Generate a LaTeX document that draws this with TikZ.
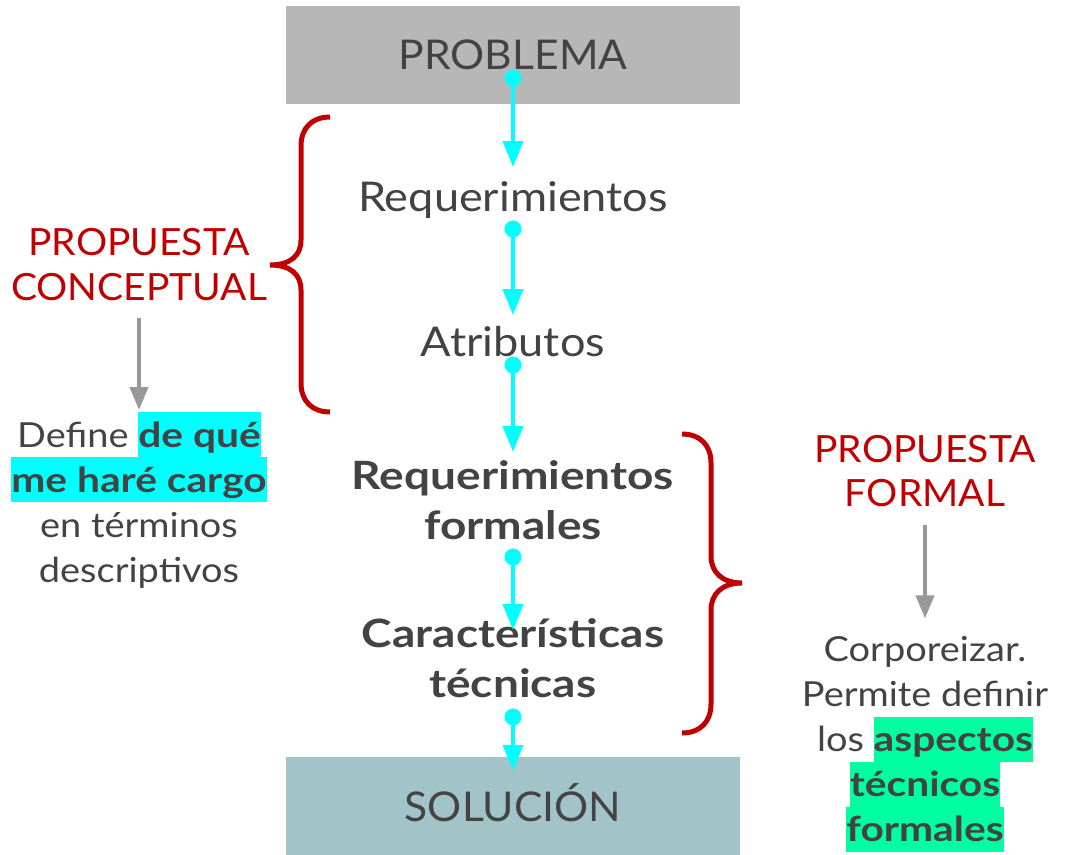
\documentclass[tikz,border=0pt]{standalone}
\usepackage{fontspec}
\setmainfont{Lato}[FakeStretch=1.1, BoldFeatures={FakeStretch=1.18}]
\newfontfamily\capsfont{Lato}[FakeStretch=1.04]
\usepackage{xcolor}
\usepackage{tikz}
\usetikzlibrary{arrows.meta, positioning}
\definecolor{textgray}{HTML}{434343}
\definecolor{boxgray}{HTML}{B7B7B7}
\definecolor{boxteal}{HTML}{A2C4C9}
\definecolor{flowcyan}{HTML}{00FFFF}
\definecolor{bracered}{HTML}{C00000}
\definecolor{arrowgray}{HTML}{999999}
\definecolor{hlgreen}{HTML}{00FFA0}
\newcommand{\hlbox}[2]{{\setlength{\fboxsep}{0pt}\colorbox{#1}{\rule[-10pt]{0pt}{45pt}#2}}}
\tikzstyle{stage} = [rectangle, fill=boxgray, text=textgray, minimum width=454pt, minimum height=98pt,
    inner sep=0pt, text height=30pt, text depth=0pt, font=\capsfont\fontsize{41}{50}\selectfont]
\tikzstyle{flowtext} = [inner sep=0pt, align=center, text=textgray, font=\fontsize{41}{50}\selectfont]
\tikzstyle{flowbold} = [flowtext, font=\fontsize{39}{50}\selectfont\bfseries]
\tikzstyle{propuesta} = [inner sep=0pt, align=center, text=bracered, font=\capsfont\fontsize{37.5}{44.5}\selectfont]
\tikzstyle{detail} = [inner sep=0pt, align=center, text=textgray, font=\fontsize{34.5}{45}\selectfont]
\tikzstyle{flow} = [draw=flowcyan, line width=4pt, {Circle[length=17pt]}-{Triangle[width=20pt,length=26pt]},
    shorten <=-8.5pt]
\tikzstyle{note} = [draw=arrowgray, line width=4pt, -{Triangle[width=18pt,length=23pt]}]
\tikzstyle{brace} = [draw=bracered, line width=5pt]

\begin{document}
\begin{tikzpicture}[x=1pt, y=-1pt]
      \useasboundingbox (0,0) rectangle (1068,854);
      % Flow
      \node [stage] (problema) at (513,54.5) {PROBLEMA};
      \node [flowtext, anchor=base] (req) at (513,211) {Requerimientos};
      \node [flowtext, anchor=base] (atributos) at (513,356) {Atributos};
      \node [flowbold, anchor=south] (reqformales) at (513,540) {Requerimientos\\formales};
      \node [flowbold, anchor=south] (caract) at (513,698) {Características\\técnicas};
      \node [stage, fill=boxteal] (solucion) at (513,806) {SOLUCIÓN};
      % Side notes
      \node [propuesta, anchor=south] (conceptual) at (139,301) {PROPUESTA\\CONCEPTUAL};
      \node [detail, anchor=north] (defconc) at (139,412) {Define \hlbox{flowcyan}{\textbf{de qué}}\\\hlbox{flowcyan}{\textbf{me haré cargo}}\\en términos\\descriptivos};
      \node [propuesta, anchor=south] (formal) at (925,507) {PROPUESTA\\FORMAL};
      \node [detail, anchor=south] (corporeizar) at (925,852) {Corporeizar.\\Permite definir\\los \hlbox{hlgreen}{\textbf{aspectos}}\\\hlbox{hlgreen}{\textbf{técnicos}}\\\hlbox{hlgreen}{\textbf{formales}}};
      % Draw edges
      \draw [flow] ([yshift=-23.5pt]problema.center) -- ([yshift=44pt]req.base);
      \draw [flow] ([yshift=-18pt]req.base) -- ([yshift=41pt]atributos.base);
      \draw [flow] ([yshift=-9pt]atributos.base) -- ([yshift=88pt]reqformales.south);
      \draw [flow] ([yshift=-17pt]reqformales.south) -- ([yshift=68pt]caract.south);
      \draw [flow] ([yshift=-19pt]caract.south) -- ([yshift=-14pt]solucion.north);
      \draw [note] ([yshift=-17pt]conceptual.south) -- ([yshift=2pt]defconc.north);
      \draw [note] ([yshift=-18pt]formal.south) -- ([yshift=18pt]corporeizar.north);
      % Braces
      \draw [brace] (330,117) .. controls (312,117) and (301,128) .. (301,146) -- (301,240)
            .. controls (301,256) and (290,265) .. (270,265)
            .. controls (290,265) and (301,274) .. (301,290) -- (301,383)
            .. controls (301,401) and (312,412) .. (330,412);
      \draw [brace] (682,434) .. controls (700,434) and (711,445) .. (711,463) -- (711,556)
            .. controls (711,572) and (722,583) .. (742,583)
            .. controls (722,583) and (711,594) .. (711,610) -- (711,704)
            .. controls (711,722) and (700,733) .. (682,733);
\end{tikzpicture}
\end{document}
